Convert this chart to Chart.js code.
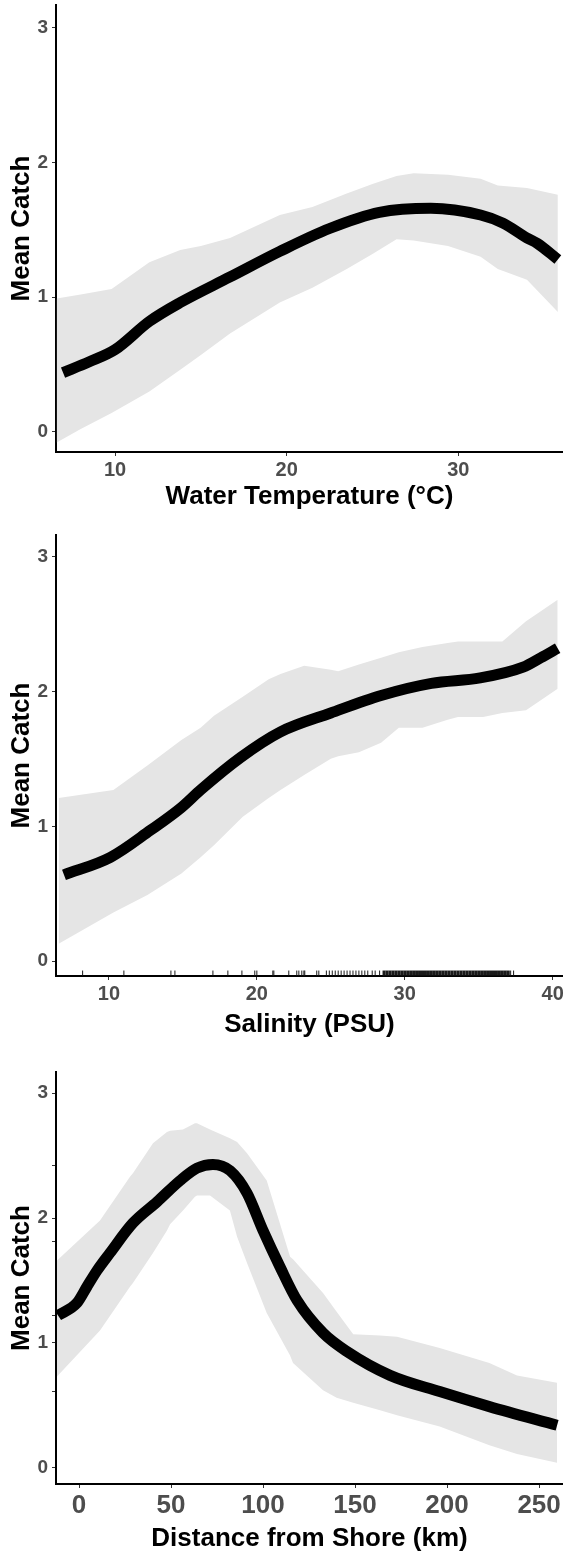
<!DOCTYPE html>
<html>
<head>
<meta charset="utf-8">
<script src="https://cdn.jsdelivr.net/npm/chart.js@4"></script>
<style>
  body { margin: 0; background: #fff; }
  .panel { position: absolute; left: 0; }
</style>
</head>
<body>
<canvas id="tempChart" class="panel" width="563" height="520" style="top:0"></canvas>
<canvas id="salChart" class="panel" width="563" height="520" style="top:520px"></canvas>
<canvas id="distChart" class="panel" width="563" height="520" style="top:1040px"></canvas>
<script>
// Water temperature panel
const tempLineX = [6.97, 8.5, 10, 12, 13.8, 16.7, 19.6, 22.5, 25.4, 28.4, 31.3, 32.6, 34, 34.6, 35.8];
const tempMean = [0.44, 0.52, 0.61, 0.82, 0.96, 1.15, 1.34, 1.51, 1.63, 1.66, 1.61, 1.55, 1.44, 1.40, 1.28];
const tempBandX = [6.6, 8, 9.8, 12, 13.8, 15, 16.7, 19.6, 21.5, 23.5, 25, 26.4, 27.4, 29.4, 31.3, 32.3, 34, 35.8];
const tempUpper = [0.99, 1.02, 1.06, 1.26, 1.35, 1.38, 1.44, 1.61, 1.67, 1.77, 1.84, 1.90, 1.92, 1.91, 1.88, 1.83, 1.81, 1.76];
const tempLower = [-0.08, 0.02, 0.14, 0.30, 0.46, 0.57, 0.73, 0.96, 1.07, 1.21, 1.32, 1.43, 1.42, 1.38, 1.30, 1.21, 1.13, 0.89];
const tempTicks = [10, 20, 30];

// Salinity panel
const salLineX = [6.96, 10.1, 12.8, 14.9, 16.2, 18.9, 21.6, 25, 28.4, 31.8, 35.1, 38, 39.2, 40.34];
const salMean = [0.64, 0.77, 0.97, 1.14, 1.27, 1.51, 1.70, 1.84, 1.97, 2.06, 2.10, 2.18, 2.25, 2.32];
const salBandX = [6.6, 10.3, 12.6, 14.9, 16.2, 17.1, 19.05, 20.8, 21.6, 23.2, 25.0, 25.5, 26.9, 28.4, 29.6, 31.2, 32.9, 33.6, 35.3, 36.6, 38.2, 40.34];
const salUpper = [1.21, 1.27, 1.45, 1.64, 1.73, 1.82, 1.96, 2.09, 2.13, 2.19, 2.16, 2.15, 2.20, 2.25, 2.29, 2.33, 2.36, 2.37, 2.37, 2.37, 2.52, 2.68];
const salLower = [0.13, 0.36, 0.49, 0.65, 0.77, 0.86, 1.07, 1.21, 1.27, 1.38, 1.50, 1.52, 1.55, 1.62, 1.73, 1.73, 1.79, 1.81, 1.81, 1.84, 1.86, 2.02];
const salTicks = [10, 20, 30, 40];
// rug of observed salinities along the x axis
const salRug = [8.22, 11.01, 14.19, 14.46, 17.03, 18.04, 18.99, 19.86, 20.0, 21.08, 21.15, 22.16, 22.7, 22.84, 23.04, 23.18, 23.24,
    24.05, 24.19, 24.7, 24.9, 25.1, 25.3, 25.5, 25.7, 25.9, 26.1, 26.3, 26.5, 26.7, 26.9, 27.1, 27.3, 27.5, 27.8, 28.0, 28.3, 37.16, 37.36];
const salRugDense = [28.6, 28.8, 29.0, 29.2, 29.4, 29.6, 29.8, 30.0, 30.2, 30.4, 30.6, 30.8, 31.0, 31.2, 31.4, 31.6, 31.8, 32.0, 32.2,
    32.4, 32.6, 32.8, 33.0, 33.2, 33.4, 33.6, 33.8, 34.0, 34.2, 34.4, 34.6, 34.8, 35.0, 35.2, 35.4, 35.6, 35.8, 36.0, 36.2, 36.4, 36.6, 36.8, 37.0];

// Distance from shore panel
const distLineX = [-11.4, -1.1, 4.3, 9.8, 16.8, 29.3, 42.4, 54.9, 64.1, 72.8, 82.1, 91.3, 100, 109.2, 118.5, 132.6, 145.7, 169, 196, 223, 259.8];
const distMean = [1.22, 1.32, 1.45, 1.58, 1.72, 1.96, 2.13, 2.30, 2.40, 2.43, 2.38, 2.20, 1.90, 1.61, 1.34, 1.08, 0.93, 0.74, 0.61, 0.49, 0.34];
const distBandX = [-12, 11.4, 27.7, 29.3, 40.2, 47.8, 49.5, 56.5, 63, 64.1, 71.2, 82, 85.9, 91.3, 102, 114.7, 116.3, 132.6, 140, 149, 163.6, 172.8, 196, 223, 238, 259.8];
const distUpper = [1.66, 1.98, 2.33, 2.36, 2.60, 2.69, 2.70, 2.71, 2.76, 2.76, 2.71, 2.64, 2.61, 2.52, 2.30, 1.69, 1.67, 1.40, 1.25, 1.07, 1.06, 1.05, 0.96, 0.84, 0.74, 0.68];
const distLower = [0.73, 1.10, 1.45, 1.48, 1.72, 1.90, 1.95, 2.06, 2.17, 2.18, 2.18, 2.06, 1.85, 1.64, 1.24, 0.90, 0.84, 0.62, 0.56, 0.52, 0.46, 0.42, 0.33, 0.18, 0.11, 0.04];
const distTicks = [0, 50, 100, 150, 200, 250];
const distMinorY = [0.61, 1.22, 1.81, 2.42];

const yTicks = [0, 1, 2, 3];

const FONT = "'Liberation Sans', Arial, sans-serif";
const TICK_COLOR = '#4d4d4d';
const BAND_COLOR = '#e5e5e5';

const toPoints = (xs, ys) => xs.map((x, i) => ({ x: x, y: ys[i] }));
const rugPoints = (xs, y) => xs.map(x => ({ x: x, y: y }));

function makePanel(id, p) {
    const ctx = document.getElementById(id).getContext('2d');
    const rugY = p.yMin + 0.022;
    const datasets = [{
        data: toPoints(p.lineX, p.mean),
        borderColor: '#000',
        borderWidth: 11,
        borderCapStyle: 'butt',
        cubicInterpolationMode: 'monotone',
        pointRadius: 0,
        fill: false
    }, {
        data: toPoints(p.bandX, p.lower),
        borderWidth: 0,
        pointRadius: 0,
        fill: false
    }, {
        data: toPoints(p.bandX, p.upper),
        borderWidth: 0,
        pointRadius: 0,
        backgroundColor: BAND_COLOR,
        fill: '-1'
    }];
    (p.rugs || []).forEach(r => {
        datasets.push({
            type: 'scatter',
            data: rugPoints(r.values, rugY),
            showLine: false,
            pointStyle: 'line',
            rotation: 90,
            pointRadius: 2.5,
            borderWidth: r.width,
            borderColor: '#1a1a1a'
        });
    });
    const allYTicks = yTicks.concat(p.minorY || []);

    return new Chart(ctx, {
        type: 'line',
        data: { datasets: datasets },
        options: {
            responsive: false,
            animation: false,
            events: [],
            layout: { autoPadding: false, padding: { top: p.top, left: 0, right: 0, bottom: 0 } },
            plugins: { legend: { display: false }, tooltip: { enabled: false } },
            scales: {
                x: {
                    type: 'linear',
                    min: p.xMin,
                    max: p.xMax,
                    afterBuildTicks: s => { s.ticks = p.xTicks.map(v => ({ value: v })); },
                    afterFit: s => { s.height = 520 - p.bottom; s.paddingLeft = 0; s.paddingRight = 0; },
                    grid: { drawOnChartArea: false, drawTicks: true, tickLength: 4, color: '#333', lineWidth: 1 },
                    border: { display: true, color: '#000', width: 2 },
                    ticks: {
                        color: TICK_COLOR,
                        padding: p.xTickPad,
                        maxRotation: 0,
                        font: { family: FONT, size: p.xTickSize, weight: 'bold' }
                    },
                    title: {
                        display: true,
                        text: p.xTitle,
                        color: '#000',
                        padding: { top: 0, bottom: p.xTitlePad },
                        font: { family: FONT, size: 26, weight: 'bold' }
                    }
                },
                y: {
                    type: 'linear',
                    min: p.yMin,
                    max: p.yMax,
                    afterBuildTicks: s => { s.ticks = allYTicks.map(v => ({ value: v })); },
                    afterFit: s => { s.width = 56; s.paddingTop = 0; s.paddingBottom = 0; },
                    grid: { drawOnChartArea: false, drawTicks: true, tickLength: 4, color: '#333', lineWidth: 1 },
                    border: { display: true, color: '#000', width: 2 },
                    ticks: {
                        color: TICK_COLOR,
                        padding: 4,
                        callback: v => (Number.isInteger(v) ? String(v) : ''),
                        font: { family: FONT, size: 19, weight: 'bold' }
                    },
                    title: {
                        display: true,
                        text: 'Mean Catch',
                        color: '#000',
                        padding: { top: 6, bottom: 0 },
                        font: { family: FONT, size: 26, weight: 'bold' }
                    }
                }
            }
        }
    });
}

makePanel('tempChart', {
    lineX: tempLineX, mean: tempMean, bandX: tempBandX, upper: tempUpper, lower: tempLower,
    xTicks: tempTicks, xMin: 6.56, xMax: 36.1, yMin: -0.15, yMax: 3.17,
    top: 5, bottom: 452, xTickSize: 20, xTickPad: 2, xTitlePad: 8,
    xTitle: 'Water Temperature (°C)'
});

makePanel('salChart', {
    lineX: salLineX, mean: salMean, bandX: salBandX, upper: salUpper, lower: salLower,
    xTicks: salTicks, xMin: 6.42, xMax: 40.7, yMin: -0.11, yMax: 3.16,
    top: 15, bottom: 456, xTickSize: 20, xTickPad: 2, xTitlePad: 0,
    xTitle: 'Salinity (PSU)',
    rugs: [{ values: salRug, width: 1 }, { values: salRugDense, width: 3 }]
});

makePanel('distChart', {
    lineX: distLineX, mean: distMean, bandX: distBandX, upper: distUpper, lower: distLower,
    xTicks: distTicks, xMin: -12.5, xMax: 263, yMin: -0.13, yMax: 3.17,
    top: 32, bottom: 444, xTickSize: 26, xTickPad: 2, xTitlePad: 6,
    xTitle: 'Distance from Shore (km)',
    minorY: distMinorY
});
</script>
</body>
</html>
